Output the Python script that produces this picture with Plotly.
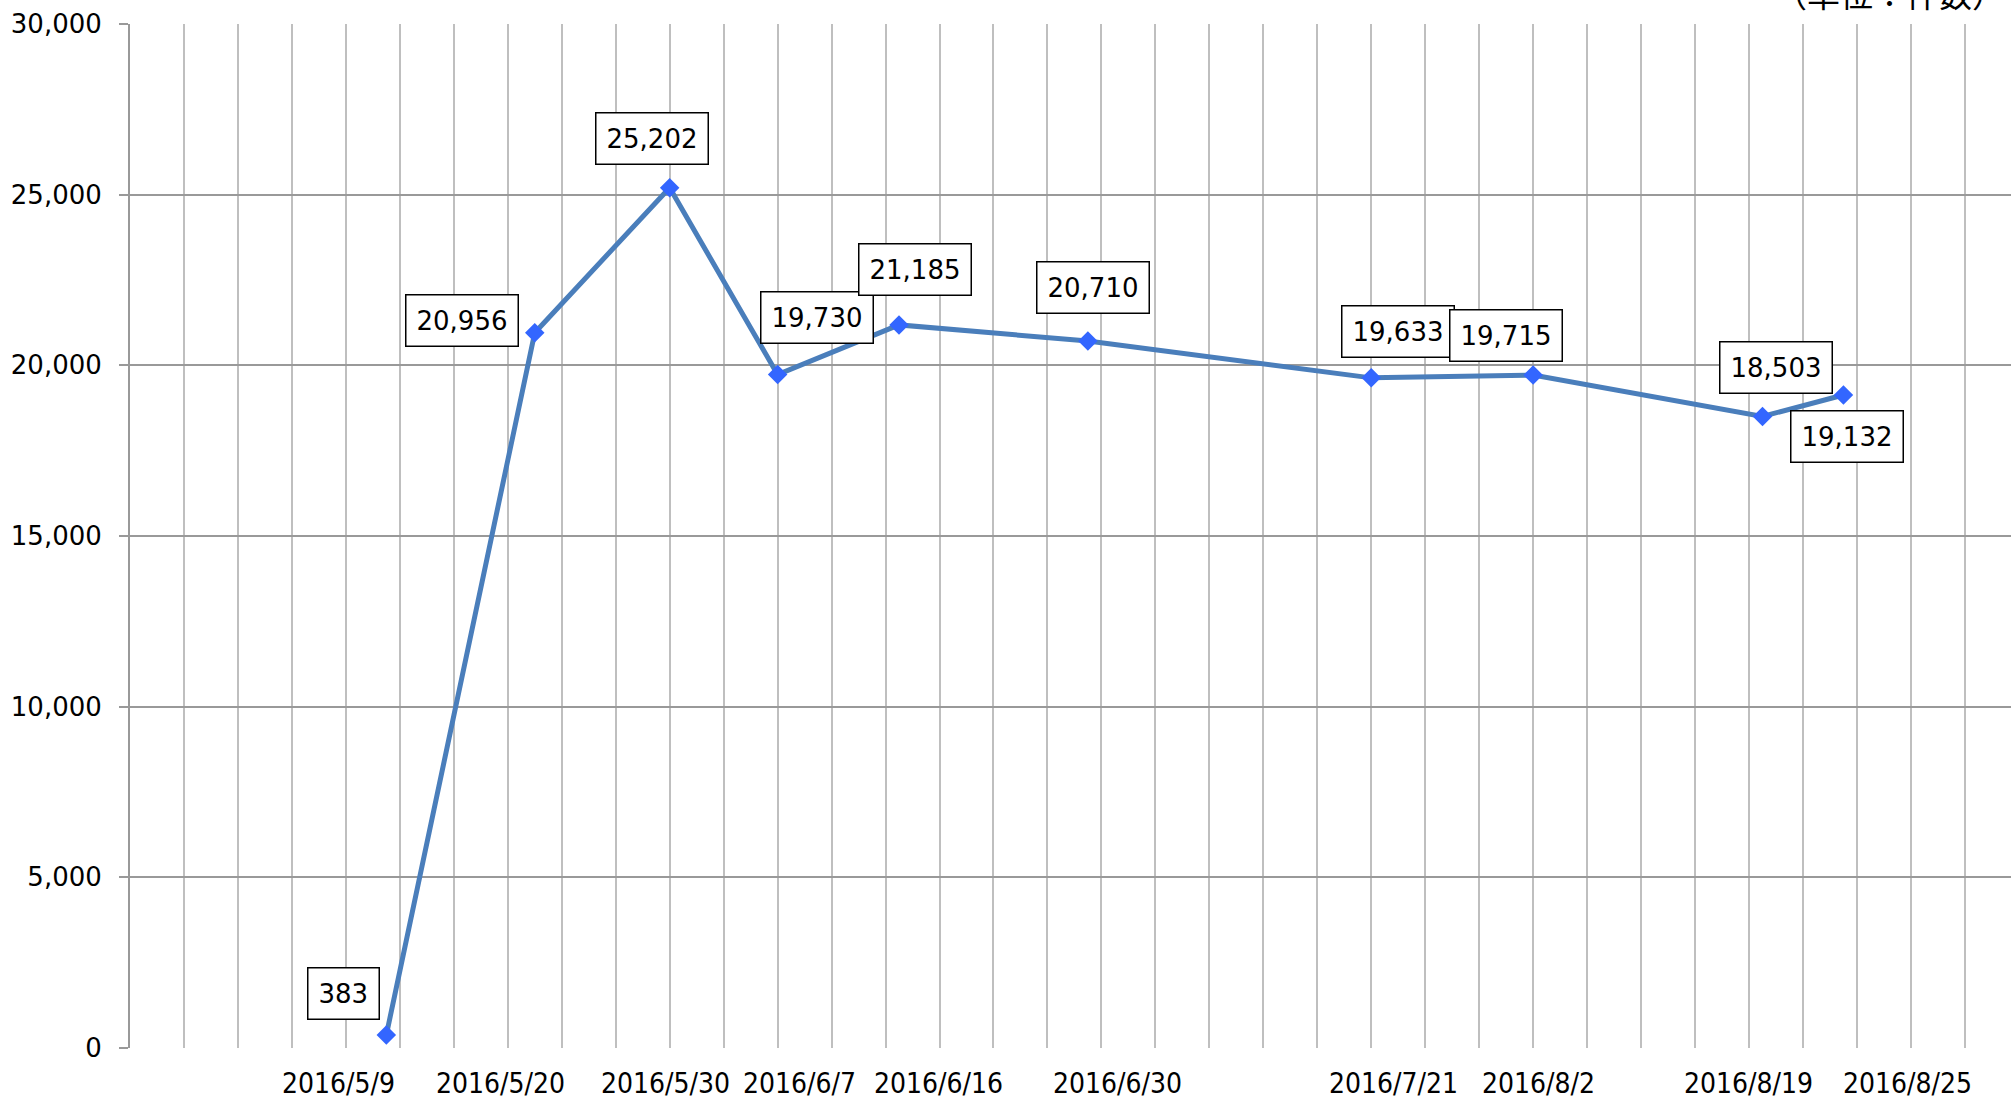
import plotly.graph_objects as go
from datetime import datetime, timedelta

# Counts (件数) over the 2016 period
dates = ["2016-05-09", "2016-05-20", "2016-05-30", "2016-06-07", "2016-06-16",
         "2016-06-30", "2016-07-21", "2016-08-02", "2016-08-19", "2016-08-25"]
counts = [383, 20956, 25202, 19730, 21185, 20710, 19633, 19715, 18503, 19132]
date_labels = ["2016/5/9", "2016/5/20", "2016/5/30", "2016/6/7", "2016/6/16",
               "2016/6/30", "2016/7/21", "2016/8/2", "2016/8/19", "2016/8/25"]
y_ticks = [0, 5000, 10000, 15000, 20000, 25000, 30000]
unit_text = "（単位：件数）"

# pixel offsets of each value box (relative to its point) and of each date label
box_dx = [-43, -73, -18, 39, 16, 5, 27, -27, 14, 4]
box_dy = [-41, -12, -49, -57, -55, -54, -46, -40, -49, 42]
label_dx = [-48, -34, -4, 22, 39, 30, 22, 5, -14, 64]

W, H = 2011, 1101
L, R, T, B = 130, 0, 24, 53

x_start = datetime(2016, 4, 20)
x_end = x_start + timedelta(days=139.42)

fig = go.Figure()
fig.add_trace(go.Scatter(
    x=dates, y=counts, mode="lines+markers",
    line=dict(color="#4A7EBB", width=5),
    marker=dict(symbol="diamond", size=15, color="#3366FF", line=dict(width=0)),
    hoverinfo="skip", showlegend=False,
))

ann = []
for d, v, dx, dy in zip(dates, counts, box_dx, box_dy):
    ann.append(dict(
        x=d, y=v, xref="x", yref="y", text=f"{v:,}", showarrow=False,
        xanchor="center", yanchor="middle", xshift=dx, yshift=-dy,
        font=dict(family="DejaVu Sans, Verdana, sans-serif", size=26, color="#000"),
        bgcolor="#FFFFFF", bordercolor="#000000", borderwidth=1.5, borderpad=10,
    ))

for d, t, dx in zip(dates, date_labels, label_dx):
    ann.append(dict(
        x=d, y=0, xref="x", yref="paper", text=t, showarrow=False,
        xanchor="center", yanchor="middle", xshift=dx, yshift=-35,
        font=dict(family="Liberation Sans Narrow, Arial Narrow, DejaVu Sans Condensed, sans-serif",
                  size=28, color="#000"),
    ))

ann.append(dict(
    x=(1889 - L) / (W - L - R), y=1, xref="paper", yref="paper", text=unit_text,
    showarrow=False, xanchor="center", yanchor="middle", yshift=31,
    font=dict(family="Noto Sans CJK JP, sans-serif", size=33, color="#000"),
))

fig.update_layout(
    width=W, height=H,
    margin=dict(l=L, r=R, t=T, b=B, pad=0),
    paper_bgcolor="#FFFFFF", plot_bgcolor="#FFFFFF",
    annotations=ann,
    xaxis=dict(
        type="date", range=[x_start, x_end],
        tick0="2016-04-20", dtick=4 * 86400000,
        showticklabels=False, ticks="",
        showgrid=True, gridcolor="#BFBFBF", gridwidth=1.5,
        showline=False, zeroline=False,
    ),
    yaxis=dict(
        range=[0, 30000], tickvals=y_ticks,
        ticktext=[f"{v:,}" for v in y_ticks],
        ticks="outside", ticklen=9, tickwidth=2, tickcolor="#999999",
        ticklabelstandoff=12,
        tickfont=dict(family="DejaVu Sans, Verdana, sans-serif", size=26, color="#000"),
        showgrid=True, gridcolor="#999999", gridwidth=2,
        showline=True, linecolor="#999999", linewidth=2,
        zeroline=False,
    ),
)

fig.write_html("out.html")
